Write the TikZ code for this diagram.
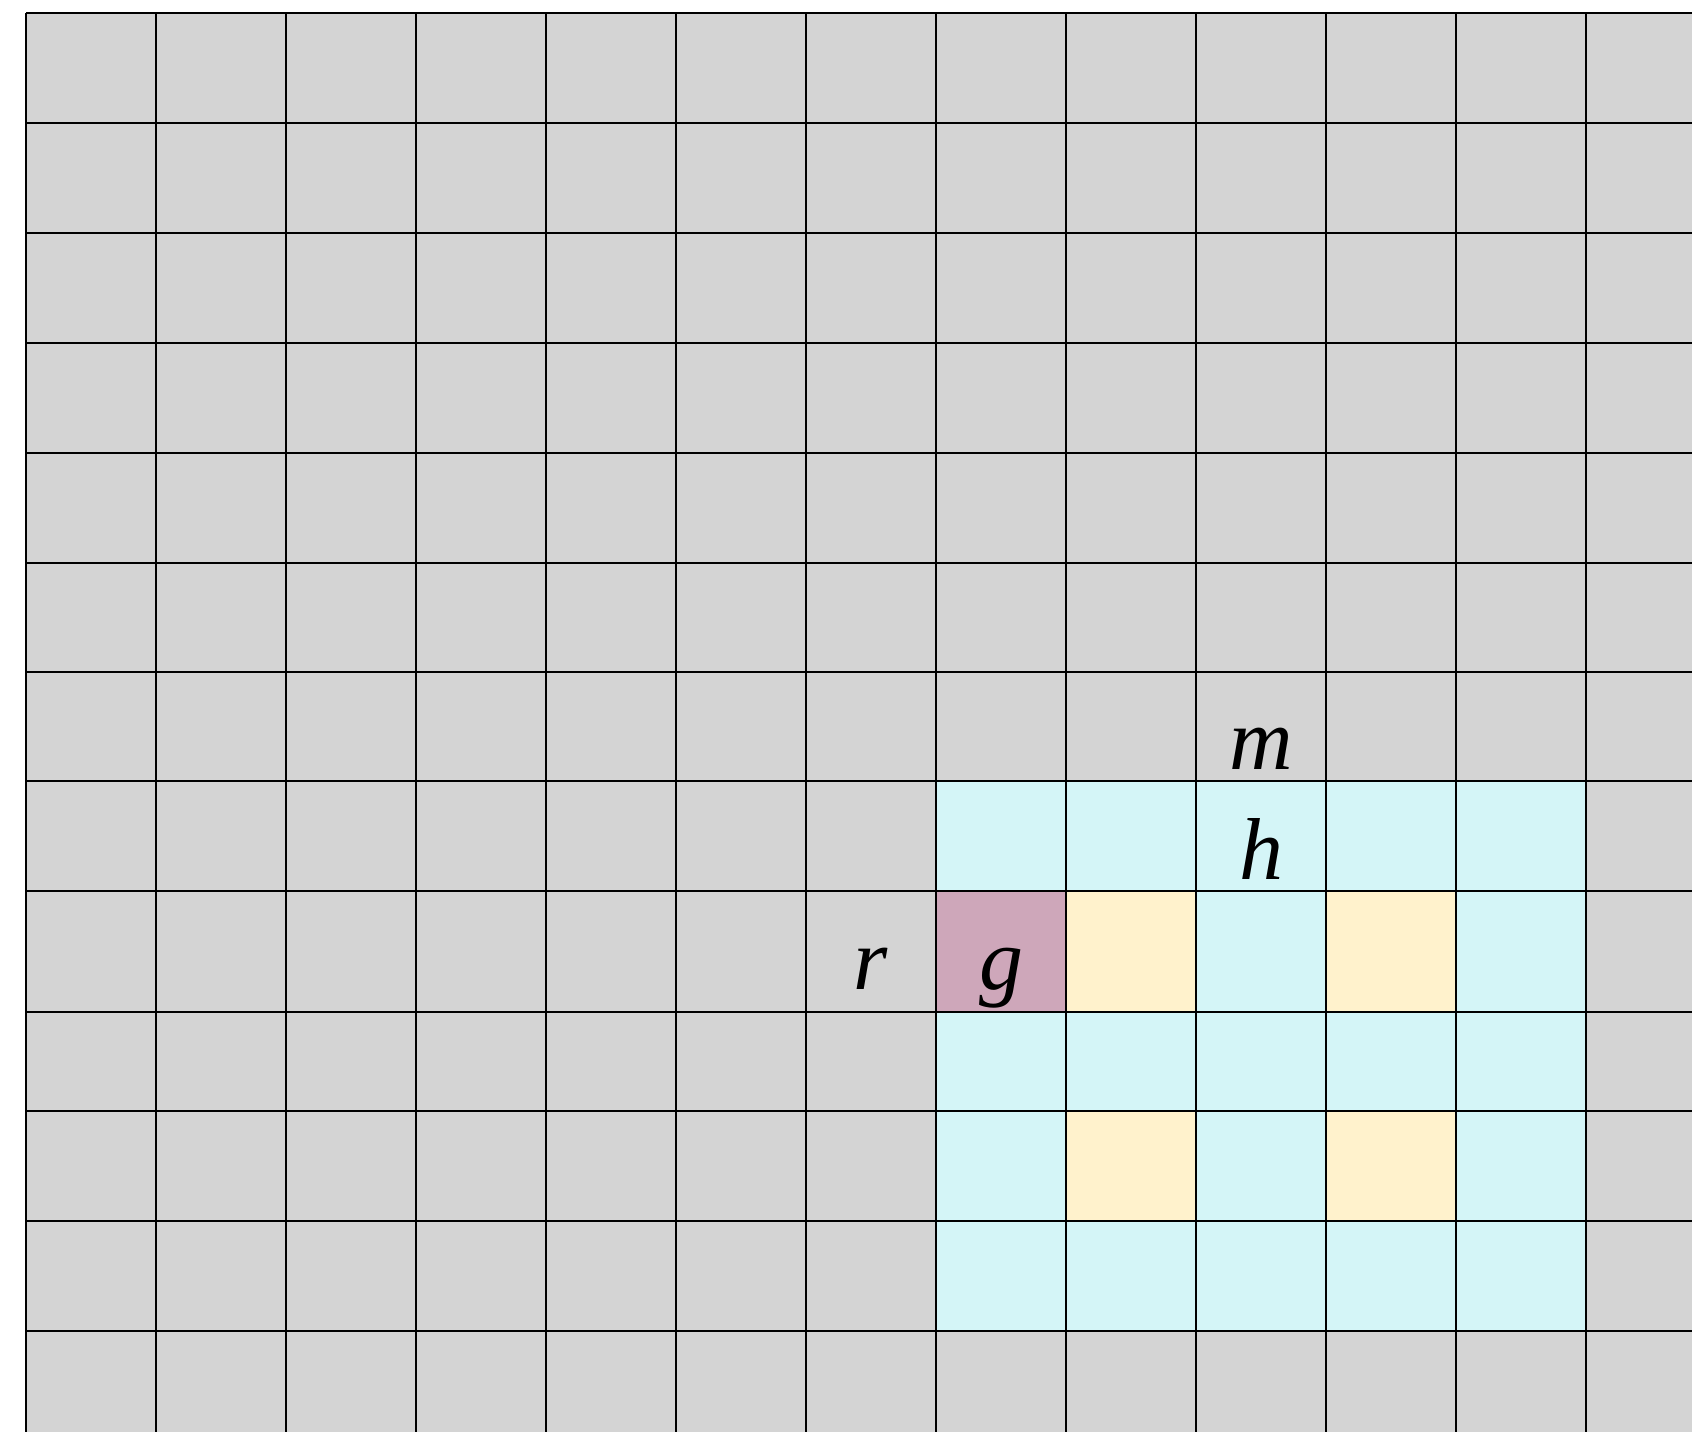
\documentclass[tikz,border=0pt]{standalone}
\usepackage{fontspec}
\setmainfont{Liberation Serif}

\definecolor{cellgray}{HTML}{D4D4D4}
\definecolor{cellcyan}{HTML}{D4F5F7}
\definecolor{cellyellow}{HTML}{FFF2CC}
\definecolor{cellmauve}{HTML}{CEA7BA}

\tikzset{
  gridline/.style={black,line width=0.55pt},
  celllabel/.style={anchor=base,inner sep=0pt,font=\fontsize{25}{30}\selectfont\itshape}
}

\begin{document}
\begin{tikzpicture}[x=0.01cm,y=-0.01cm]
			\useasboundingbox (0,0) rectangle (1692,1432);
			\clip (0,0) rectangle (1692,1432);
			% cells
			\fill[cellgray] (26,13) rectangle (1692,1432);
			\fill[cellcyan] (936,781) rectangle (1586,1331);
			\fill[cellmauve] (936,891) rectangle (1066,1012);
			\foreach \xa in {1066,1326}
				\foreach \ya/\yb in {891/1012,1111/1221}
					\fill[cellyellow] (\xa,\ya) rectangle (\xa+130,\yb);
			% grid
			\foreach \i in {0,...,13}
				\draw[gridline] (26+130*\i,13) -- (26+130*\i,1432);
			\foreach \y in {13,123,233,343,453,563,672,781,891,1012,1111,1221,1331}
				\draw[gridline] (26,\y) -- (1692,\y);
			% labels
			\node[celllabel] (m) at (1261,769) {m};
			\node[celllabel] (h) at (1261,879) {h};
			\node[celllabel] (g) at (1001,989) {g};
			\node[celllabel] (r) at (871,989) {r};
		\end{tikzpicture}
\end{document}
